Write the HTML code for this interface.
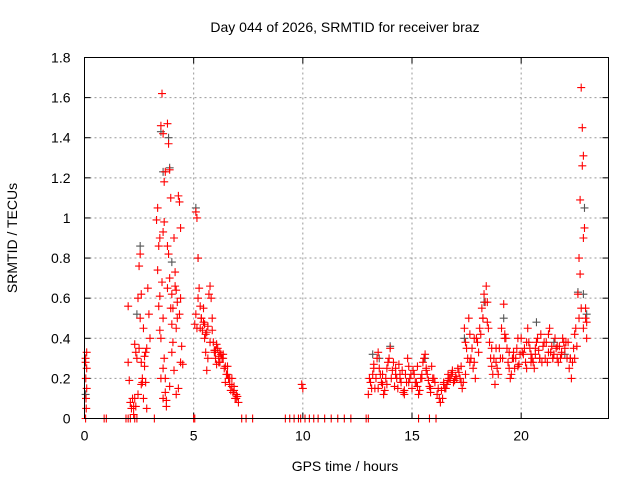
<!DOCTYPE html>
<html><head><meta charset="utf-8"><style>
body{margin:0;background:#fff;}
svg{display:block;font-family:"Liberation Sans",sans-serif;}
</style></head><body>
<svg id="chart" width="640" height="480">
<rect x="0" y="0" width="640" height="480" fill="#fff"/>
<text x="345" y="32" font-size="14" text-anchor="middle">Day 044 of 2026, SRMTID for receiver braz</text>
<text x="345" y="471" font-size="14" text-anchor="middle">GPS time / hours</text>
<text transform="translate(17,238) rotate(-90)" font-size="14" text-anchor="middle">SRMTID / TECUs</text>
<g id="grid"></g><g id="ticks"></g><g id="gray"></g><g id="red"></g>
<rect x="84.5" y="57.5" width="524" height="361" fill="none" stroke="#000"/>
</svg>
<script>
const xTicks=[0,5,10,15,20];
const yTicks=[0,0.2,0.4,0.6,0.8,1,1.2,1.4,1.6,1.8];
const yTickLabels=["0","0.2","0.4","0.6","0.8","1","1.2","1.4","1.6","1.8"];
const zeroHours=[0.05,0.9,1.0,1.9,2.0,2.1,2.3,2.4,3.2,5.0,5.05,7.2,7.4,7.7,9.2,9.4,9.6,9.8,9.9,10.1,10.3,10.5,10.7,11.0,11.3,11.6,11.9,12.2,12.9,13.0,15.3,15.8,16.1];
const redHours=[0.05,0.05,0.06,0.07,0.08,0.1,0.1,0.1,
2.0,2.0,2.05,2.1,2.15,2.2,2.25,2.3,2.35,2.4,2.45,2.5,2.55,2.6,2.65,2.7,2.75,2.8,2.85,2.9,2.95,3.0,2.55,2.6,2.7,2.8,2.65,2.45,2.35,
3.3,3.35,3.4,3.45,3.5,3.55,3.6,3.65,3.7,3.5,3.55,3.6,3.65,3.7,3.75,3.8,3.85,3.9,3.95,3.8,3.85,3.9,3.95,4.0,4.05,4.1,4.15,4.2,4.25,4.3,4.35,4.4,4.45,4.5,4.0,4.1,4.2,3.4,3.45,3.6,3.7,3.75,3.9,4.25,4.35,4.4,4.3,3.35,4.0,4.15,
2.25,2.3,2.5,2.6,2.75,2.85,3.45,3.6,3.65,3.8,4.05,4.2,4.4,3.5,3.6,
5.1,5.15,5.2,5.05,5.1,5.15,5.2,5.25,5.3,5.35,5.4,5.45,5.5,5.55,5.6,5.65,5.7,5.75,5.8,5.85,5.9,5.95,6.0,6.05,6.1,6.15,6.2,6.3,6.4,6.5,6.6,6.65,6.7,6.8,6.9,7.0,7.05,6.45,6.55,6.75,6.85,6.95,5.3,5.5,5.6,6.2,6.0,6.35,
5.35,5.45,5.55,5.65,5.75,5.85,5.95,6.05,6.15,6.25,6.35,6.45,6.55,6.65,6.75,6.85,6.95,
9.95,10.0,
13.0,13.1,13.2,13.3,13.4,13.5,13.6,13.7,13.8,13.9,14.0,14.1,14.2,14.3,14.4,14.5,14.6,14.7,14.8,14.9,15.0,15.1,15.2,15.3,15.4,15.5,15.6,15.7,15.8,15.9,16.0,16.2,16.3,16.4,16.5,16.6,16.7,16.8,16.9,17.0,17.1,17.2,17.3,17.4,17.5,17.6,17.7,17.8,17.9,18.0,18.1,18.2,18.3,18.4,18.5,18.6,18.7,18.8,18.9,19.0,19.1,19.2,19.3,19.4,19.5,19.6,19.7,19.8,19.9,20.0,20.1,20.2,20.3,20.4,20.5,20.6,20.7,20.8,20.9,21.0,21.1,21.2,21.3,21.4,21.5,21.6,21.7,21.8,21.9,22.0,22.1,22.2,22.3,22.4,22.5,22.6,22.7,22.75,22.8,22.85,22.9,22.95,23.0,22.65,22.7,22.8,22.85,23.0,
13.05,13.25,13.45,13.65,13.85,14.05,14.25,14.45,14.65,14.85,15.05,15.25,15.45,15.65,15.85,16.05,16.45,16.65,16.85,17.05,17.25,17.45,17.65,17.85,18.05,18.25,18.45,18.65,18.85,19.05,19.25,19.45,19.65,19.85,20.05,20.25,20.45,20.65,20.85,21.05,21.25,21.45,21.65,21.85,22.05,22.25,22.45,
13.15,13.25,13.35,13.45,13.55,13.65,13.75,13.85,13.95,
14.15,14.25,14.35,14.45,14.55,14.65,14.75,14.85,14.95,
15.15,15.25,15.35,15.45,15.55,15.65,15.75,15.85,15.95,
16.15,16.25,16.35,16.45,16.55,16.65,16.75,16.85,16.95,
17.15,17.25,17.35,17.45,17.55,17.65,17.75,17.85,17.95,
18.15,18.25,18.35,18.45,18.55,18.65,18.75,18.85,18.95,
19.15,19.25,19.35,19.45,19.55,19.65,19.75,19.85,19.95,
20.15,20.25,20.35,20.45,20.55,20.65,20.75,20.85,20.95,
21.15,21.25,21.35,21.45,21.55,21.65,21.75,21.85,21.95,
22.15,22.25,22.35,22.45,22.55,22.65,22.75,22.85,22.95];
const redValues=[0.3,0.28,0.2,0.1,0.05,0.33,0.25,0.15,
0.56,0.28,0.19,0.08,0.05,0.1,0.02,0.37,0.33,0.3,0.6,0.76,0.5,0.28,0.18,0.45,0.31,0.18,0.05,0.65,0.52,0.4,0.82,0.17,0.1,0.33,0.2,0.12,0.06,
0.99,1.05,0.86,0.61,1.46,1.62,1.42,1.18,1.23,0.4,0.68,0.5,0.3,0.2,0.09,1.47,1.37,1.24,1.1,0.86,0.82,0.7,0.55,0.47,0.38,0.9,0.73,0.64,0.5,1.11,1.08,0.95,0.36,0.27,0.33,0.24,0.12,0.56,0.44,0.25,0.13,0.06,0.16,0.58,0.52,0.28,0.15,0.74,0.62,0.66,
0.06,0.1,0.35,0.62,0.26,0.35,0.9,0.93,0.98,0.65,0.55,0.45,0.6,0.2,0.1,
1.03,1.0,0.8,0.47,0.52,0.45,0.6,0.65,0.56,0.5,0.44,0.48,0.4,0.33,0.24,0.3,0.62,0.66,0.6,0.5,0.38,0.33,0.3,0.27,0.35,0.31,0.28,0.3,0.25,0.22,0.2,0.17,0.14,0.13,0.1,0.11,0.08,0.18,0.26,0.2,0.16,0.12,0.45,0.47,0.43,0.33,0.34,0.32,
0.5,0.55,0.42,0.46,0.38,0.44,0.34,0.37,0.28,0.32,0.3,0.26,0.22,0.2,0.16,0.14,0.1,
0.17,0.15,
0.12,0.18,0.22,0.15,0.3,0.25,0.18,0.12,0.2,0.28,0.35,0.24,0.16,0.2,0.27,0.18,0.13,0.22,0.3,0.2,0.15,0.22,0.18,0.12,0.2,0.28,0.32,0.22,0.16,0.26,0.2,0.15,0.08,0.1,0.15,0.17,0.2,0.22,0.18,0.21,0.25,0.2,0.15,0.45,0.35,0.5,0.3,0.25,0.2,0.38,0.45,0.55,0.62,0.66,0.45,0.3,0.22,0.17,0.25,0.35,0.45,0.57,0.4,0.28,0.2,0.3,0.25,0.35,0.27,0.4,0.32,0.28,0.45,0.35,0.3,0.25,0.38,0.34,0.42,0.36,0.3,0.28,0.45,0.36,0.32,0.35,0.28,0.3,0.4,0.35,0.3,0.25,0.2,0.35,0.45,0.62,1.09,1.65,1.45,1.31,0.95,0.55,0.48,0.8,0.72,1.26,0.9,0.4,
0.2,0.25,0.15,0.22,0.17,0.2,0.25,0.22,0.14,0.18,0.24,0.16,0.2,0.25,0.13,0.18,0.17,0.19,0.23,0.2,0.18,0.22,0.28,0.4,0.33,0.5,0.58,0.35,0.28,0.3,0.42,0.33,0.3,0.26,0.33,0.38,0.28,0.32,0.3,0.38,0.33,0.3,0.36,0.33,0.38,0.3,0.3,
0.15,0.27,0.2,0.33,0.22,0.17,0.14,0.25,0.3,
0.28,0.22,0.15,0.2,0.24,0.12,0.18,0.26,0.22,
0.18,0.26,0.14,0.22,0.3,0.24,0.19,0.15,0.2,
0.12,0.1,0.14,0.18,0.15,0.22,0.2,0.24,0.19,
0.23,0.26,0.18,0.38,0.3,0.42,0.35,0.28,0.4,
0.42,0.5,0.58,0.48,0.38,0.26,0.3,0.35,0.22,
0.3,0.4,0.35,0.25,0.22,0.33,0.3,0.4,0.32,
0.35,0.25,0.38,0.32,0.28,0.35,0.4,0.3,0.28,
0.38,0.42,0.33,0.3,0.4,0.3,0.36,0.32,0.38,
0.38,0.3,0.28,0.42,0.36,0.5,0.55,0.45,0.5];
const grayHours=[0.05,2.4,2.55,3.5,3.6,3.85,3.9,4.0,5.1,5.2,13.2,13.5,14.0,15.6,17.4,18.3,19.2,20.7,21.5,22.0,22.6,22.9,23.0,22.85];
const grayValues=[0.12,0.52,0.86,1.43,1.23,1.4,1.25,0.78,1.05,0.8,0.32,0.3,0.36,0.3,0.4,0.58,0.5,0.48,0.38,0.32,0.63,1.05,0.52,0.62];
const X0=84.5,X1=608.5,Y0=418.5,Y1=57.5;
const xs=h=>X0+h/24*(X1-X0);
const ys=v=>Y0-v/1.8*(Y0-Y1);
const NS="http://www.w3.org/2000/svg";
function mk(tag,attrs,parent){const e=document.createElementNS(NS,tag);for(const k in attrs)e.setAttribute(k,attrs[k]);document.getElementById(parent).appendChild(e);return e;}
xTicks.forEach(t=>{
  if(t>0){const g=mk('line',{x1:xs(t),x2:xs(t),y1:Y1,y2:Y0,stroke:'#999','stroke-dasharray':'2,3'},'grid');
  
  }
  const l=mk('text',{x:xs(t),y:Y0+22,'font-size':14,'text-anchor':'middle'},'ticks');l.textContent=t;
  
  
  mk('line',{x1:xs(t),x2:xs(t),y1:Y0,y2:Y0-6,stroke:'#000'},'ticks');
  mk('line',{x1:xs(t),x2:xs(t),y1:Y1,y2:Y1+6,stroke:'#000'},'ticks');
});
yTicks.forEach((t,i)=>{
  if(t>0&&t<1.8){const g=mk('line',{x1:X0,x2:X1,y1:ys(t),y2:ys(t),stroke:'#999','stroke-dasharray':'2,3'},'grid');
  
  }
  const l=mk('text',{x:X0-14,y:ys(t)+5,'font-size':14,'text-anchor':'end'},'ticks');l.textContent=yTickLabels[i];
  
  
  mk('line',{x1:X0,x2:X0+6,y1:ys(t),y2:ys(t),stroke:'#000'},'ticks');
  mk('line',{x1:X1,x2:X1-6,y1:ys(t),y2:ys(t),stroke:'#000'},'ticks');
});
function cross(h,v,col,grp,name){const x=xs(h),y=ys(v);
  const p=mk('path',{d:`M${x-4},${y}h8M${x},${y-4}v8`,stroke:col,'stroke-width':1.1,fill:'none'},grp);
  
  }
grayHours.forEach((h,i)=>cross(h,grayValues[i],'#555','gray','gray-point'));
redHours.forEach((h,i)=>cross(h,redValues[i],'#f00','red','red-point'));
zeroHours.forEach(h=>cross(h,0,'#f00','red','zero-point'));
</script>
</body></html>
